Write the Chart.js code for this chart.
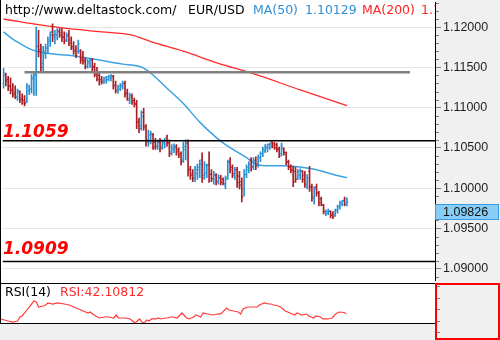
<!DOCTYPE html>
<html><head><meta charset="utf-8">
<script src="https://cdn.jsdelivr.net/npm/chart.js@4.4.1/dist/chart.umd.min.js"></script>
<style>
html,body{margin:0;padding:0;background:#fff;overflow:hidden;}
#wrap{position:relative;width:500px;height:340px;}
canvas{position:absolute;left:0;display:block;}
#main{top:0;width:500px;height:283px;}
#rsi{top:283px;width:500px;height:57px;}
</style></head><body>
<div id="wrap">
<canvas id="main" width="500" height="283"></canvas>
<canvas id="rsi" width="500" height="57"></canvas>
</div>
<script>
// ---------- data ----------
const site = 'http://www.deltastock.com/';
const symbol = 'EUR/USD';

const opens = [1.1130,1.1140,1.1135,1.1127,1.1123,1.1118,1.1113,1.1119,1.1111,1.1109,
 1.1107,1.1121,1.1123,1.1135,1.1140,1.1176,1.1172,1.1155,1.1167,1.1174,
 1.1182,1.1194,1.1187,1.1190,1.1195,1.1193,1.1188,1.1184,1.1190,1.1184,
 1.1176,1.1172,1.1170,1.1170,1.1161,1.1159,1.1151,1.1155,1.1160,1.1151,
 1.1145,1.1140,1.1135,1.1133,1.1134,1.1135,1.1137,1.1139,1.1128,1.1121,
 1.1123,1.1126,1.1130,1.1118,1.1109,1.1113,1.1109,1.1105,1.1083,1.1077,
 1.1094,1.1076,1.1057,1.1060,1.1066,1.1057,1.1052,1.1057,1.1051,1.1055,
 1.1063,1.1056,1.1045,1.1048,1.1051,1.1048,1.1043,1.1035,1.1048,1.1056,
 1.1023,1.1018,1.1013,1.1018,1.1023,1.1035,1.1016,1.1019,1.1029,1.1017,
 1.1011,1.1016,1.1008,1.1013,1.1011,1.1004,1.1013,1.1033,1.1026,1.1016,
 1.1023,1.1015,1.1008,1.0999,1.1017,1.1023,1.1035,1.1027,1.1035,1.1029,
 1.1038,1.1043,1.1046,1.1050,1.1051,1.1057,1.1055,1.1054,1.1049,1.1043,
 1.1049,1.1044,1.1033,1.1027,1.1023,1.1021,1.1013,1.1016,1.1021,1.1016,
 1.1002,1.1021,1.1002,1.0987,1.1001,1.0994,1.0987,1.0979,1.0968,1.0969,
 1.0971,1.0968,1.0967,1.0973,1.0977,1.0980,1.0985,1.0980];
const highs = [1.1149,1.1143,1.1139,1.1137,1.1130,1.1127,1.1123,1.1121,1.1117,1.1115,
 1.1130,1.1128,1.1141,1.1145,1.1200,1.1196,1.1179,1.1176,1.1179,1.1188,
 1.1194,1.1204,1.1196,1.1198,1.1198,1.1198,1.1194,1.1193,1.1196,1.1188,
 1.1182,1.1177,1.1184,1.1172,1.1170,1.1162,1.1160,1.1161,1.1161,1.1155,
 1.1150,1.1143,1.1139,1.1138,1.1139,1.1140,1.1141,1.1140,1.1133,1.1128,
 1.1130,1.1133,1.1133,1.1123,1.1118,1.1117,1.1112,1.1109,1.1087,1.1096,
 1.1099,1.1079,1.1072,1.1071,1.1068,1.1062,1.1060,1.1062,1.1060,1.1062,
 1.1066,1.1060,1.1054,1.1055,1.1054,1.1050,1.1045,1.1057,1.1060,1.1060,
 1.1027,1.1023,1.1027,1.1030,1.1035,1.1044,1.1033,1.1030,1.1045,1.1023,
 1.1021,1.1018,1.1017,1.1016,1.1013,1.1015,1.1035,1.1038,1.1029,1.1026,
 1.1026,1.1021,1.1013,1.1023,1.1029,1.1033,1.1038,1.1038,1.1039,1.1041,
 1.1045,1.1051,1.1054,1.1055,1.1056,1.1058,1.1057,1.1056,1.1051,1.1056,
 1.1050,1.1045,1.1035,1.1029,1.1027,1.1026,1.1023,1.1024,1.1022,1.1021,
 1.1017,1.1027,1.1005,1.1002,1.1005,1.0996,1.0989,1.0980,1.0973,1.0974,
 1.0972,1.0971,1.0974,1.0979,1.0984,1.0985,1.0989,1.0988];
const lows = [1.1124,1.1127,1.1121,1.1117,1.1113,1.1111,1.1109,1.1106,1.1104,1.1102,
 1.1106,1.1116,1.1118,1.1115,1.1115,1.1163,1.1145,1.1145,1.1161,1.1167,
 1.1176,1.1182,1.1179,1.1184,1.1187,1.1182,1.1179,1.1182,1.1177,1.1172,
 1.1166,1.1162,1.1167,1.1155,1.1154,1.1148,1.1149,1.1150,1.1145,1.1138,
 1.1133,1.1128,1.1129,1.1130,1.1130,1.1133,1.1133,1.1123,1.1118,1.1118,
 1.1121,1.1123,1.1113,1.1109,1.1105,1.1104,1.1101,1.1074,1.1069,1.1072,
 1.1072,1.1052,1.1052,1.1055,1.1048,1.1048,1.1048,1.1045,1.1048,1.1050,
 1.1052,1.1039,1.1041,1.1044,1.1041,1.1038,1.1029,1.1032,1.1035,1.1015,
 1.1011,1.1008,1.1008,1.1011,1.1013,1.1007,1.1011,1.1013,1.1007,1.1008,
 1.1005,1.1004,1.1005,1.1004,1.1004,1.0999,1.1011,1.1019,1.1013,1.1011,
 1.1001,1.0999,1.0983,1.0990,1.1013,1.1019,1.1021,1.1023,1.1023,1.1026,
 1.1033,1.1039,1.1044,1.1045,1.1048,1.1050,1.1048,1.1045,1.1038,1.1040,
 1.1041,1.1029,1.1023,1.1019,1.1002,1.1007,1.1011,1.1011,1.1007,1.1001,
 1.0999,1.0996,1.0984,1.0980,1.0990,1.0978,1.0978,1.0968,1.0966,1.0967,
 1.0963,1.0962,1.0965,1.0969,1.0974,1.0978,1.0978,1.0978];
const closes = [1.1143,1.1133,1.1126,1.1121,1.1116,1.1113,1.1121,1.1110,1.1106,1.1105,
 1.1126,1.1123,1.1137,1.1141,1.1170,1.1170,1.1150,1.1170,1.1174,1.1184,
 1.1190,1.1190,1.1191,1.1194,1.1190,1.1187,1.1183,1.1189,1.1180,1.1174,
 1.1170,1.1165,1.1179,1.1159,1.1157,1.1151,1.1157,1.1159,1.1150,1.1141,
 1.1135,1.1133,1.1132,1.1137,1.1138,1.1139,1.1140,1.1127,1.1121,1.1126,
 1.1128,1.1130,1.1117,1.1111,1.1115,1.1107,1.1104,1.1082,1.1074,1.1089,
 1.1077,1.1060,1.1066,1.1068,1.1051,1.1052,1.1057,1.1050,1.1057,1.1060,
 1.1056,1.1043,1.1050,1.1052,1.1045,1.1041,1.1033,1.1052,1.1056,1.1023,
 1.1016,1.1012,1.1023,1.1026,1.1030,1.1013,1.1029,1.1028,1.1017,1.1012,
 1.1017,1.1008,1.1013,1.1007,1.1006,1.1011,1.1032,1.1023,1.1018,1.1023,
 1.1007,1.1004,1.0989,1.1017,1.1026,1.1030,1.1026,1.1034,1.1028,1.1038,
 1.1043,1.1048,1.1051,1.1054,1.1055,1.1052,1.1050,1.1048,1.1040,1.1052,
 1.1044,1.1032,1.1026,1.1022,1.1008,1.1011,1.1021,1.1022,1.1011,1.1005,
 1.1013,1.1001,1.0989,1.0999,1.0994,1.0982,1.0980,1.0971,1.0971,1.0972,
 1.0966,1.0965,1.0972,1.0977,1.0982,1.0984,1.0980,1.09826];

// moving averages, read at selected bars (bar index -> value)
const ma50Idx = [0,4,8,12,17,28,39,51,57,60,63,70,77,84,91,95,100,104,108,112,119,125,134,140,147];
const ma50Val = [1.1194,1.1185,1.1178,1.1172,1.1168,1.1165,1.1160,1.1154,1.1152,1.1149,1.1143,1.1124,1.1105,1.1082,1.1063,1.1054,1.1045,1.1038,1.1030,1.1028,1.1028,1.1027,1.1023,1.1018,1.10129];
const ma200Idx = [0,17,28,42,55,63,77,92,106,127,147];
const ma200Val = [1.1210,1.1202,1.1198,1.1194,1.1190,1.1182,1.1170,1.1155,1.1143,1.1122,1.11024];

// horizontal levels
const levelLines = [1.1059, 1.0909];
const greyLevel = 1.1144;
const greyFromIdx = 9, greyToIdx = 174;

// axis ticks
const priceMajorTicks = [1.090, 1.095, 1.100, 1.105, 1.110, 1.115, 1.120];
const priceMinorStep = 0.001;
const rsiAxisTicks = [10, 30, 50, 70, 90];

// RSI(14), read at selected bars
const rsiIdx = [0,3,5,7,8,9,11,12,13,14,15,16,17,18,19,20,22,24,27,29,30,31,34,36,37,38,39,41,42,44,46,48,49,50,53,55,56,57,58,59,60,61,62,63,64,66,67,68,70,71,72,73,75,77,79,80,82,83,84,85,86,88,90,92,93,94,96,97,99,101,102,103,105,107,109,110,112,114,115,116,118,119,121,123,125,126,127,128,130,131,133,134,136,137,139,140,141,142,143,144,146,147];
const rsiVal = [33.0,29.5,27.7,29.5,36.4,38.2,48.6,53.8,59.0,64.3,62.5,53.8,54.7,55.6,57.3,60.8,59.0,60.8,59.0,57.3,55.6,53.8,48.6,45.1,43.4,45.1,41.6,36.4,34.7,36.4,36.4,34.7,39.9,34.7,34.7,33.0,29.5,26.0,29.5,33.0,27.7,26.0,31.2,29.5,33.0,33.0,34.7,33.0,34.7,34.7,36.4,36.4,34.7,43.4,34.7,33.0,36.4,39.9,38.2,36.4,43.4,41.6,39.9,41.6,41.6,43.4,52.1,48.6,46.9,45.1,41.6,50.3,53.8,53.8,53.8,57.3,60.8,59.0,59.0,57.3,55.6,53.8,46.9,43.4,39.9,43.4,41.6,39.9,41.6,38.2,34.7,38.2,36.4,33.0,33.0,33.8,34.7,39.9,43.4,45.1,44.3,42.10812];

// ---------- layout / style ----------
const X_MIN = -0.43, X_MAX = 184.7;
const Y_MIN = 1.08854, Y_MAX = 1.12305;
const RSI_MIN = 26.0, RSI_MAX = 93.8;
const UP = '#2a90d0', DOWN = '#a81e24';
const AXIS_BG = '#f0f0f0';
const TXT_FONT = '12.5px "DejaVu Sans"';
const levelLabelDy = [-4, -7];

const barColors = closes.map((c, i) => c >= opens[i] ? UP : DOWN);
const hlData = closes.map((c, i) => ({x: i, y: [lows[i], highs[i]]}));
const openData = opens.map((o, i) => ({x: i, y: o}));
const closeData = closes.map((c, i) => ({x: i, y: c}));
const pts = (xs, ys) => xs.map((x, k) => ({x, y: ys[k]}));

const mainDeco = {
  id: 'mainDeco',
  beforeDraw(chart) {
    const {ctx, chartArea: a, width, height} = chart;
    ctx.save();
    ctx.fillStyle = '#fff'; ctx.fillRect(0, 0, width, height);
    ctx.fillStyle = AXIS_BG; ctx.fillRect(a.right, 0, width - a.right, height);
    ctx.restore();
  },
  afterDatasetsDraw(chart) {
    const {ctx, chartArea: a} = chart;
    const ys = chart.scales.y;
    ctx.save();
    ctx.beginPath(); ctx.rect(a.left, a.top, a.right - a.left, a.bottom - a.top); ctx.clip();
    ctx.font = TXT_FONT; ctx.textBaseline = 'alphabetic'; ctx.textAlign = 'left';
    ctx.fillStyle = '#000';
    ctx.fillText(site, 5, 14);
    ctx.fillText(symbol, 188, 14);
    ctx.fillStyle = '#2e8fd8';
    ctx.fillText('MA(50)', 253, 14);
    ctx.fillText(ma50Val[ma50Val.length - 1].toFixed(5), 305, 14);
    ctx.fillStyle = '#ff2222';
    ctx.fillText('MA(200)', 362, 14);
    ctx.fillText(ma200Val[ma200Val.length - 1].toFixed(5), 421, 14);
    ctx.font = 'italic bold 17px "DejaVu Sans"'; ctx.fillStyle = '#ff0000';
    levelLines.forEach((lv, k) => {
      ctx.fillText(lv.toFixed(4), 3, ys.getPixelForValue(lv) + levelLabelDy[k]);
    });
    ctx.restore();
  },
  afterDraw(chart) {
    const {ctx, chartArea: a, width, height} = chart;
    const ys = chart.scales.y;
    ctx.save();
    ctx.fillStyle = '#000'; ctx.fillRect(0, 0, 1, height);
    // minor ticks
    ctx.strokeStyle = '#808080'; ctx.lineWidth = 1; ctx.beginPath();
    const nMinor = Math.round((Y_MAX - Y_MIN) / priceMinorStep) + 2;
    const start = Math.ceil(Y_MIN / priceMinorStep);
    for (let k = 0; k < nMinor; k++) {
      const v = (start + k) * priceMinorStep;
      if (v > Y_MAX) break;
      if (priceMajorTicks.some(t => Math.abs(t - v) < 1e-7)) continue;
      const py = Math.round(ys.getPixelForValue(v)) + 0.5;
      ctx.moveTo(a.right + 1, py); ctx.lineTo(a.right + 4, py);
    }
    ctx.stroke();
    // last price box
    const last = closes[closes.length - 1];
    const top = Math.round(ys.getPixelForValue(last)) + 2;
    ctx.fillStyle = '#87cdf5'; ctx.fillRect(a.right, top, width - a.right - 1, 16);
    ctx.strokeStyle = '#3a9be0'; ctx.strokeRect(a.right + 0.5, top + 0.5, width - a.right - 2, 15);
    ctx.fillStyle = '#111'; ctx.font = '12.5px "Liberation Sans"'; ctx.textBaseline = 'middle'; ctx.textAlign = 'left';
    ctx.fillText(last.toFixed(5), a.right + 8, top + 8.5);
    ctx.restore();
  }
};

new Chart(document.getElementById('main'), {
  type: 'bar',
  data: {
    datasets: [
      {type: 'line', data: [{x: X_MIN, y: levelLines[0]}, {x: X_MAX, y: levelLines[0]}], borderColor: '#000', borderWidth: 1.5, pointRadius: 0},
      {type: 'line', data: [{x: X_MIN, y: levelLines[1]}, {x: X_MAX, y: levelLines[1]}], borderColor: '#000', borderWidth: 1.5, pointRadius: 0},
      {type: 'line', data: [{x: greyFromIdx, y: greyLevel}, {x: greyToIdx, y: greyLevel}], borderColor: '#808080', borderWidth: 2.5, pointRadius: 0},
      {type: 'scatter', data: openData, pointStyle: 'dash', pointRotation: 180, pointRadius: 1.5, pointBorderWidth: 1, pointBorderColor: barColors, pointBackgroundColor: barColors, pointHoverRadius: 0},
      {type: 'scatter', data: closeData, pointStyle: 'dash', pointRotation: 0, pointRadius: 1.5, pointBorderWidth: 1, pointBorderColor: barColors, pointBackgroundColor: barColors, pointHoverRadius: 0},
      {type: 'bar', data: hlData, backgroundColor: barColors, barThickness: 1, borderWidth: 0, grouped: false},
      {type: 'line', data: pts(ma50Idx, ma50Val), borderColor: '#3ea2e2', borderWidth: 1.5, pointRadius: 0, cubicInterpolationMode: 'monotone'},
      {type: 'line', data: pts(ma200Idx, ma200Val), borderColor: '#ff2a2a', borderWidth: 1.3, pointRadius: 0, cubicInterpolationMode: 'monotone'}
    ]
  },
  options: {
    responsive: false, animation: false, devicePixelRatio: 1, events: [],
    layout: {padding: 0},
    plugins: {legend: {display: false}, tooltip: {enabled: false}},
    scales: {
      x: {type: 'linear', display: false, min: X_MIN, max: X_MAX, offset: false, bounds: 'data', grid: {offset: false}},
      y: {
        position: 'right', min: Y_MIN, max: Y_MAX, bounds: 'data',
        afterBuildTicks: s => { s.ticks = priceMajorTicks.map(v => ({value: v})); },
        afterFit: s => { s.width = 65; s.paddingTop = 0; s.paddingBottom = 0; },
        ticks: {callback: v => Number(v).toFixed(5), color: '#1e1e1e', font: {family: 'Liberation Sans', size: 12.5}, padding: 2, autoSkip: false, maxRotation: 0},
        grid: {color: '#e6e6e6', lineWidth: 1, tickColor: '#808080', tickLength: 6, drawTicks: true},
        border: {display: true, color: '#000', width: 1}
      }
    }
  },
  plugins: [mainDeco]
});

const rsiDeco = {
  id: 'rsiDeco',
  beforeDraw(chart) {
    const {ctx, chartArea: a, width, height} = chart;
    ctx.save();
    ctx.fillStyle = '#fff'; ctx.fillRect(0, 0, width, height);
    ctx.fillStyle = AXIS_BG;
    ctx.fillRect(0, a.bottom, a.right, height - a.bottom);
    ctx.fillRect(a.right, 0, width - a.right, height);
    ctx.restore();
  },
  afterDraw(chart) {
    const {ctx, chartArea: a, width, height} = chart;
    const ys = chart.scales.y;
    ctx.save();
    ctx.fillStyle = '#000';
    ctx.fillRect(0, 0, a.right + 1, 1);
    ctx.fillRect(0, a.bottom, a.right + 1, 1);
    ctx.fillRect(0, 0, 1, a.bottom);
    ctx.strokeStyle = '#808080'; ctx.lineWidth = 1; ctx.beginPath();
    rsiAxisTicks.forEach(v => {
      const py = Math.round(ys.getPixelForValue(v)) + 0.5;
      ctx.moveTo(a.right + 2, py); ctx.lineTo(a.right + 5, py);
    });
    ctx.stroke();
    ctx.strokeStyle = '#ff0000'; ctx.lineWidth = 2;
    ctx.strokeRect(a.right + 1, 1, width - a.right - 2, height - 2);
    ctx.font = TXT_FONT; ctx.textBaseline = 'alphabetic'; ctx.textAlign = 'left';
    ctx.fillStyle = '#000'; ctx.fillText('RSI(14)', 5, 12.5);
    ctx.fillStyle = '#ff2a2a'; ctx.fillText('RSI:' + rsiVal[rsiVal.length - 1].toFixed(5), 60, 12.5);
    ctx.restore();
  }
};

new Chart(document.getElementById('rsi'), {
  type: 'line',
  data: {datasets: [{data: pts(rsiIdx, rsiVal), borderColor: '#ff3b3b', borderWidth: 1.2, pointRadius: 0, tension: 0}]},
  options: {
    responsive: false, animation: false, devicePixelRatio: 1, events: [],
    layout: {padding: {left: 0, top: 1, right: 65, bottom: 17}},
    plugins: {legend: {display: false}, tooltip: {enabled: false}},
    scales: {
      x: {type: 'linear', display: false, min: X_MIN, max: X_MAX, offset: false},
      y: {display: false, min: RSI_MIN, max: RSI_MAX}
    }
  },
  plugins: [rsiDeco]
});
</script>
</body></html>
